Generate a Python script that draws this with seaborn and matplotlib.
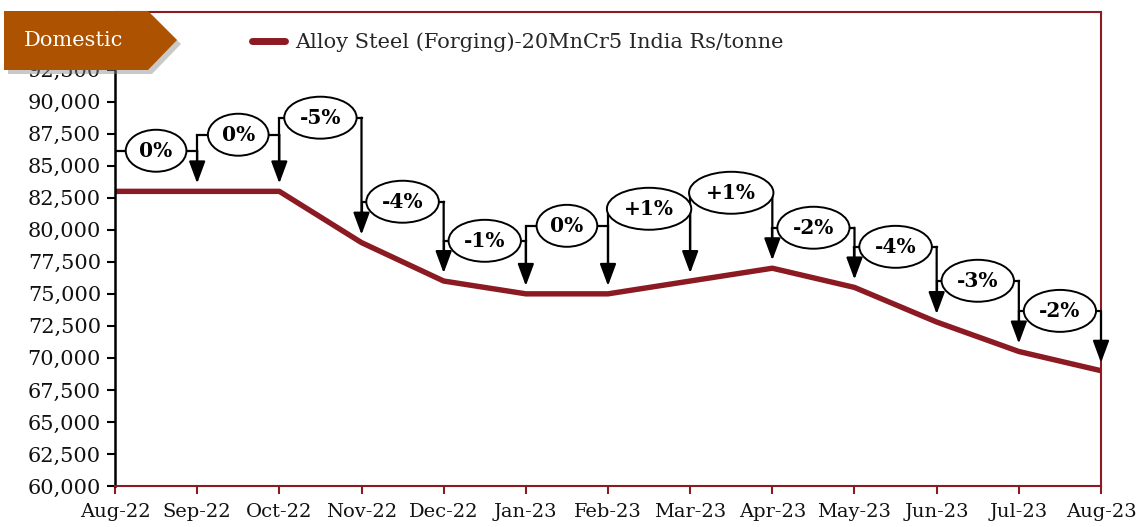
import matplotlib
matplotlib.use("Agg")
import matplotlib.pyplot as plt
from matplotlib.patches import Polygon
import seaborn as sns
import numpy as np
import pandas as pd

months = ["Aug-22", "Sep-22", "Oct-22", "Nov-22", "Dec-22", "Jan-23", "Feb-23",
          "Mar-23", "Apr-23", "May-23", "Jun-23", "Jul-23", "Aug-23"]
prices = [83000, 83000, 83000, 79000, 76000, 75000, 75000,
          76000, 77000, 75500, 72800, 70500, 69000]
# heights (Rs/tonne) at which each month-on-month change bracket is drawn
label_levels = [86170, 87420, 88750, 82190, 79140, 80310,
                81640, 82890, 80160, 78670, 76020, 73670]
yticks = list(range(60000, 92501, 2500))
series_name = "Alloy Steel (Forging)-20MnCr5 India Rs/tonne"
badge_text = "Domestic"

sns.set_theme(style="white")
plt.rcParams['font.family'] = ['DejaVu Serif']

W, H = 1136, 527
fig = plt.figure(figsize=(W / 100, H / 100), dpi=100)
ax = fig.add_axes([115 / W, 1 - 486 / H, (1101 - 115) / W, (486 - 12) / H])

RED = "#8B1A22"
df = pd.DataFrame({"x": np.arange(len(months)), "price": prices, "series": series_name})
sns.lineplot(data=df, x="x", y="price", hue="series", palette=[RED], lw=3.9, ax=ax,
             solid_joinstyle="round", solid_capstyle="butt")

ax.set_xlim(0, len(months) - 1)
ax.set_ylim(60000, 97000)
ax.set_yticks(yticks)
ax.set_yticklabels([f"{v:,}" for v in yticks])
ax.set_xticks(range(len(months)))
ax.set_xticklabels(months)
ax.set_xlabel("")
ax.set_ylabel("")

for s in ["top", "right", "bottom"]:
    ax.spines[s].set_color(RED)
    ax.spines[s].set_linewidth(1.5)
ax.spines["left"].set_color("black")
ax.spines["left"].set_linewidth(1.8)
ax.tick_params(axis="y", direction="out", length=6, width=1.5, color="black",
               labelsize=15, pad=4, labelcolor="#111111")
ax.tick_params(axis="x", direction="out", length=6, width=1.5, color=RED,
               labelsize=14, pad=6, labelcolor="#111111")
ax.tick_params(left=True, bottom=True)

# change brackets
gap = 620
for i in range(1, len(prices)):
    h = label_levels[i - 1]
    x0, x1 = i - 1, i
    pct = round((prices[i] / prices[i - 1] - 1) * 100)
    lab = f"+{pct}%" if pct > 0 else f"{pct}%"
    # left connector down to previous point
    ax.plot([x0, x0], [h, prices[i - 1] + gap + 1500], color="black", lw=1.6, zorder=3,
            solid_capstyle="butt")
    ax.plot([x0, x1], [h, h], color="black", lw=1.6, zorder=3, solid_capstyle="projecting")
    ax.annotate("", xy=(x1, prices[i] + gap), xytext=(x1, h),
                arrowprops=dict(arrowstyle="-|>,head_length=1.35,head_width=0.5",
                                mutation_scale=10, color="black", lw=1.6,
                                shrinkA=0, shrinkB=0), zorder=4)
    ax.text((x0 + x1) / 2, h, lab, ha="center", va="center", fontsize=14.5,
            fontweight="bold", color="black", zorder=5,
            bbox=dict(boxstyle="ellipse,pad=0.24", fc="white", ec="black", lw=1.4))

# legend
leg = ax.legend(loc="center left", bbox_to_anchor=(244 / W, 1 - 42 / H),
                bbox_transform=fig.transFigure, frameon=False, fontsize=15,
                handlelength=1.55, handletextpad=0.5, borderaxespad=0)
for ln in leg.get_lines():
    ln.set_linewidth(5)
    ln.set_solid_capstyle("round")

# badge
def fp(x, y):
    return (x / W, 1 - y / H)

pts = [(4, 11), (148, 11), (177, 40), (148, 70), (4, 70)]
shadow = Polygon([fp(x + 4, y + 4) for x, y in pts], closed=True, transform=fig.transFigure,
                 fc="#888888", ec="none", alpha=0.45, zorder=9)
badge = Polygon([fp(x, y) for x, y in pts], closed=True, transform=fig.transFigure,
                fc="#AD5200", ec="none", zorder=10)
fig.patches.extend([shadow, badge])
fig.text(24 / W, 1 - 41 / H, badge_text, color="white", fontsize=15, ha="left",
         va="center", zorder=11)

fig.savefig("out.png", dpi=100)
